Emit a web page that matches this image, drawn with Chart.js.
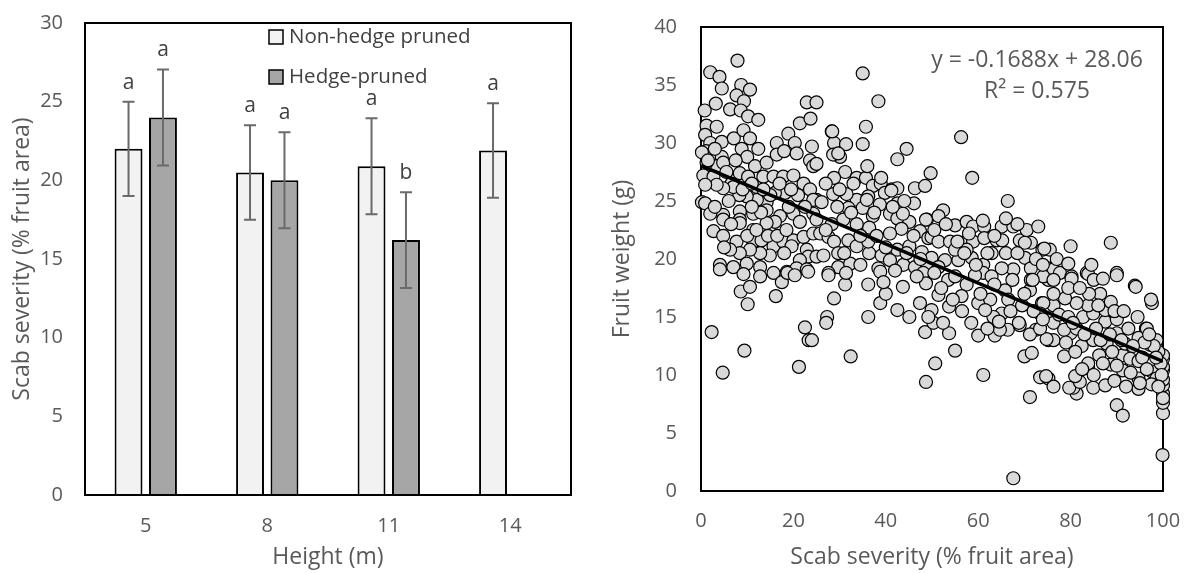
<!DOCTYPE html>
<html lang="en">
<head>
<meta charset="UTF-8">
<title>Scab severity and fruit weight</title>
<script src="https://cdn.jsdelivr.net/npm/chart.js"></script>
<style>
  html, body { margin: 0; padding: 0; background: #fff; }
  #wrap { position: relative; width: 1188px; height: 573px; }
  #barChart { position: absolute; left: 0; top: 0; }
  #scatterChart { position: absolute; left: 600px; top: 0; }
</style>
</head>
<body>
<div id="wrap">
  <canvas id="barChart" width="600" height="573"></canvas>
  <canvas id="scatterChart" width="588" height="573"></canvas>
</div>
<script>
// ---- left panel: scab severity by height ----
const heights = ['5', '8', '11', '14'];
const nonHedge = [22.0, 20.5, 20.9, 21.9];
const nonHedgeErr = [3.0, 3.0, 3.05, 3.0];
const nonHedgeLetters = ['a', 'a', 'a', 'a'];
const hedge = [24.0, 20.0, 16.2, null];
const hedgeErr = [3.05, 3.05, 3.05, null];
const hedgeLetters = ['a', 'a', 'b', null];

// ---- right panel: fruit weight vs scab severity ----
const scabSeverity = [
  7.9, 2.0, 4.0, 4.5, 8.7, 10.6, 7.7, 9.3, 3.2, 0.8, 6.3, 8.6, 10.2, 12.4, 1.2, 3.4, 0.9, 2.0, 1.1, 0.2,
  4.5, 7.1, 9.2, 10.6, 8.8, 12.4, 10.0, 11.7, 14.2, 16.4, 16.4, 18.9, 20.3, 21.4, 23.7, 22.9, 25.0, 18.0, 20.7, 24.0,
  23.6, 24.3, 4.5, 3.4, 1.2, 0.5, 2.7, 4.8, 6.6, 8.4, 10.2, 12.1, 13.5, 15.7, 17.8, 20.0, 22.2, 23.6, 25.0, 18.2,
  16.0, 14.2, 12.1, 9.9, 8.3, 7.0, 4.8, 3.4, 0.9, 0.2, 0.9, 2.0, 4.8, 8.4, 8.4, 11.3, 14.2, 17.1, 20.0, 21.4,
  24.3, 16.0, 14.2, 11.3, 8.4, 4.8, 2.7, 4.8, 7.7, 11.3, 13.1, 15.7, 17.8, 20.0, 22.2, 22.9, 23.2, 21.4, 19.6, 18.0,
  14.9, 12.8, 10.6, 8.4, 6.3, 4.1, 7.0, 9.9, 12.8, 15.7, 18.6, 20.7, 22.9, 25.0, 24.3, 25.0, 24.3,
  2.3, 4.7, 9.4, 8.6, 10.1, 10.6, 9.2, 12.8, 16.2, 17.5, 18.7, 22.5, 23.3, 21.2, 20.3, 4.1, 23.2,
  35.0, 38.4, 35.7, 35.0, 44.5, 42.5, 28.3, 28.8, 31.4, 30.1, 28.6, 25.0, 31.2, 28.8, 33.7, 35.7, 37.2, 38.9, 41.3, 42.5,
  46.3, 48.5, 49.7, 46.1, 42.5, 39.8, 36.2, 33.7, 31.5, 28.6, 26.1, 31.9, 35.0, 37.2, 40.9, 42.5, 45.1, 48.9, 47.4, 43.4,
  40.9, 36.4, 33.7, 30.8, 28.3, 25.8, 27.6, 28.8, 31.9, 33.7, 36.4, 36.2, 39.1, 42.5, 45.1, 47.8, 49.2, 29.7, 26.5, 29.7,
  32.3, 27.6, 38.4, 40.9, 43.8, 46.3, 48.9, 48.1,
  32.4, 48.7, 50.7, 36.2, 38.8, 40.0, 42.5, 45.1, 36.2, 43.7, 48.5, 47.4, 48.7, 50.3, 27.3, 27.1, 28.8, 31.2, 27.6, 31.4,
  24.0, 38.8, 46.7,
  56.3, 58.7, 66.4, 52.4, 51.4, 55.0, 57.5, 58.9, 61.3, 65.1, 67.6, 49.9, 51.4, 53.9, 56.4, 58.9, 61.3, 64.0, 65.2, 69.0,
  71.4, 73.9, 70.1, 71.4, 75.2, 67.6, 65.1, 61.1, 58.6, 55.7, 52.8, 49.9, 51.4, 55.0, 57.5, 62.9, 61.1,
  67.6, 71.2, 61.1, 55.0, 53.7, 60.0, 63.6, 66.4, 64.7, 69.0, 72.5, 71.2, 70.0, 71.6, 73.4, 75.2, 75.2, 65.1, 68.8, 63.3,
  60.0, 62.6, 57.5, 53.5, 51.4, 53.7, 49.9, 56.4, 67.4, 71.2, 73.8, 71.4, 75.2, 59.3, 62.9, 65.8, 61.5, 52.4, 49.2,
  88.7, 80.0, 75.5, 76.3, 77.7, 80.2, 83.5, 90.0, 74.1,
  99.9, 90.0, 91.3, 100, 100, 100, 100, 100, 100, 100, 100, 99.0, 100, 76.3, 81.3, 80.6, 79.7, 84.9, 87.5, 74.7,
  82.0, 81.0, 83.8, 83.8, 78.6, 86.2, 88.7, 91.3, 91.3, 92.9, 94.7, 94.7, 94.7, 97.6, 98.6, 98.6, 97.2, 96.3, 94.7, 91.8,
  90.0, 87.8, 84.9, 82.4, 80.0, 76.3, 74.8, 73.4, 76.3, 78.6, 81.3, 82.7, 84.9, 87.5, 90.0, 87.5, 88.7, 86.4, 83.8, 81.3,
  78.8, 76.3, 76.3, 74.1, 73.4, 93.9, 97.6, 90.0, 80.2, 76.3,
  96.5, 99.5, 99.7, 100, 99.0, 98.0, 96.0, 97.0,
  70.1, 74.3, 83.8, 94.1, 71.8, 97.4, 48.7, 43.7, 41.2, 38.7, 35.9, 29.7, 28.4,
  1.5, 3.0, 5.5, 6.0, 7.5, 9.0, 11.0, 13.0, 5.0, 3.0, 6.5, 10.0, 12.0, 14.5, 16.5, 18.5, 19.0, 21.0, 22.5, 19.5,
  17.0, 15.0, 13.5, 11.0,
  27.0, 30.0, 32.5, 34.5, 38.0, 40.0, 37.5, 39.0, 41.5, 44.0, 46.0, 44.5, 42.0, 39.5, 34.5, 31.0, 27.0, 29.5, 33.0, 36.0,
  50.5, 53.0, 55.5, 57.0, 59.5, 62.0, 63.5, 66.0, 68.5, 70.5, 72.5, 74.0, 60.5, 63.5, 66.5, 69.5, 72.0, 74.0, 52.0, 54.5,
  56.5, 58.5, 62.0, 64.5, 67.0, 70.0, 55.0, 50.5, 47.5, 58.0, 61.0, 68.5, 73.0, 66.0,
  77.5, 79.5, 80.5, 79.0, 81.0, 83.0, 85.5, 86.5, 88.5, 89.0, 91.0, 92.5, 93.5, 95.5, 96.5, 93.0, 90.0, 87.0, 85.0, 82.5,
  89.5, 92.0, 97.5, 95.0, 98.5, 99.0, 84.0, 86.0, 89.5, 91.5, 94.5, 79.5, 82.0, 85.0, 77.0, 79.5, 84.5, 87.0
];
const fruitWeight = [
  37.1, 36.1, 35.7, 34.7, 35.0, 34.6, 34.1, 33.6, 33.4, 32.8, 32.9, 32.8, 32.3, 32.0, 31.5, 31.4, 30.7, 30.0, 29.3, 29.2,
  30.1, 30.4, 31.1, 30.4, 29.5, 29.5, 28.8, 28.0, 28.3, 30.0, 29.0, 30.8, 30.0, 31.7, 32.1, 33.5, 33.5, 29.3, 29.1, 29.7,
  28.5, 28.0, 28.8, 28.0, 28.3, 27.2, 27.1, 28.3, 26.5, 27.4, 27.1, 26.2, 27.1, 27.1, 27.1, 27.2, 26.5, 26.0, 25.1, 25.7,
  25.7, 24.9, 25.1, 25.4, 25.5, 26.2, 26.1, 26.4, 26.4, 24.9, 24.8, 23.9, 23.8, 24.1, 23.4, 23.9, 24.2, 23.7, 23.9, 23.2,
  23.9, 23.2, 23.1, 22.5, 23.1, 23.4, 22.4, 22.0, 21.5, 21.5, 21.6, 21.1, 21.5, 21.6, 21.9, 20.8, 20.2, 19.9, 21.1, 20.5,
  20.3, 20.5, 20.8, 20.5, 20.8, 19.5, 19.3, 19.6, 19.3, 18.8, 18.9, 19.2, 19.1, 20.2, 22.2, 23.4, 25.1,
  13.7, 10.2, 12.1, 17.2, 16.1, 17.6, 18.7, 18.5, 16.8, 18.0, 18.8, 14.1, 13.0, 10.7, 18.6, 19.1, 18.9,
  36.0, 33.6, 31.4, 29.9, 29.5, 28.6, 31.0, 30.0, 29.9, 28.8, 29.0, 28.2, 27.5, 27.0, 27.0, 27.0, 26.3, 26.5, 26.0, 26.1,
  26.1, 26.3, 27.4, 24.8, 24.8, 25.7, 25.4, 25.1, 25.6, 25.6, 24.9, 24.4, 24.4, 23.7, 23.9, 23.5, 23.2, 23.4, 22.4, 22.6,
  22.2, 22.7, 23.0, 23.4, 23.0, 22.2, 21.9, 21.5, 21.6, 21.1, 20.5, 21.5, 20.3, 20.8, 21.1, 20.6, 21.8, 20.5, 20.3, 19.3,
  19.6, 18.8, 19.2, 19.9, 19.5, 19.3, 19.5, 18.8,
  11.6, 9.4, 11.0, 15.0, 16.2, 17.0, 15.6, 15.0, 17.8, 17.6, 13.7, 16.2, 17.9, 14.5, 15.0, 14.5, 16.6, 17.8, 18.6, 18.8,
  13.0, 18.9, 18.5,
  30.5, 27.0, 25.0, 24.2, 23.7, 22.9, 23.2, 22.8, 22.8, 22.8, 22.8, 21.9, 21.5, 21.5, 21.4, 21.5, 21.8, 21.6, 21.6, 21.6,
  21.4, 20.8, 20.1, 19.2, 19.2, 19.1, 19.2, 19.5, 20.1, 19.9, 19.9, 20.1, 19.3, 20.8, 20.8, 20.5, 18.8,
  1.1, 8.1, 10.0, 12.1, 13.6, 13.4, 13.4, 13.9, 13.9, 14.3, 13.9, 13.5, 11.6, 11.9, 9.8, 9.7, 13.0, 15.3, 14.5, 15.0,
  16.2, 16.5, 17.8, 18.2, 16.9, 15.9, 15.6, 16.8, 18.2, 17.3, 16.2, 18.2, 18.2, 18.6, 18.5, 17.3, 15.6, 14.5, 15.0,
  21.4, 21.1, 20.8, 19.1, 18.8, 18.5, 18.8, 18.8, 18.5,
  3.1, 7.4, 6.5, 6.7, 7.6, 8.4, 9.1, 9.6, 10.4, 10.7, 11.4, 10.4, 11.7, 9.0, 8.4, 8.9, 8.9, 8.9, 9.1, 9.9,
  9.4, 9.9, 10.6, 11.0, 11.6, 11.7, 10.9, 10.4, 11.7, 11.4, 11.2, 8.8, 9.7, 10.3, 9.7, 13.0, 12.6, 14.0, 13.2, 12.7,
  13.6, 12.7, 13.0, 12.5, 13.6, 13.0, 13.1, 14.0, 14.5, 13.9, 14.0, 15.0, 15.3, 14.6, 14.8, 15.6, 16.3, 17.0, 16.0, 16.2,
  16.6, 16.0, 17.0, 16.2, 15.3, 17.7, 16.2, 18.6, 18.3, 18.2,
  14.0, 11.0, 10.0, 8.0, 12.0, 12.5, 12.8, 13.5,
  21.4, 20.9, 18.7, 17.6, 18.2, 16.5, 23.4, 23.9, 25.9, 24.7, 25.1, 29.1, 31.0,
  28.5, 29.5, 27.5, 25.0, 28.5, 26.0, 26.5, 24.0, 21.0, 24.5, 23.0, 22.0, 22.5, 22.0, 22.0, 22.5, 24.5, 25.5, 24.5, 26.0,
  26.5, 25.5, 26.0, 24.5,
  26.5, 26.0, 24.0, 22.0, 22.0, 21.0, 24.0, 27.0, 24.5, 25.0, 22.0, 20.5, 19.0, 18.0, 19.5, 20.5, 22.5, 24.5, 26.5, 28.0,
  22.5, 23.0, 21.5, 20.5, 19.5, 20.5, 22.0, 20.5, 20.5, 22.5, 20.0, 19.5, 17.0, 17.8, 16.5, 16.0, 15.5, 14.8, 17.5, 16.5,
  15.5, 14.5, 14.0, 14.6, 15.5, 17.0, 18.5, 18.8, 20.0, 22.2, 23.3, 23.0, 22.8, 23.5,
  15.2, 15.0, 14.5, 12.8, 12.0, 13.5, 14.0, 13.0, 13.5, 12.0, 13.0, 14.0, 12.5, 11.5, 10.5, 10.2, 10.8, 11.0, 10.0, 10.5,
  9.5, 9.0, 9.2, 9.3, 11.5, 9.0, 17.0, 16.0, 15.5, 15.5, 15.0, 17.5, 17.5, 18.2, 20.0, 19.6, 19.5, 18.3
];
// fitted line as shown on the chart: y = -0.1688x + 28.06
const trendX = [0, 100];
const trendY = [28.06, 11.18];
const trendLabels = ['y = -0.1688x + 28.06', 'R\u00B2 = 0.575'];

const FONT = '"Open Sans"';
const AXIS_GREY = '#595959';
const TITLE_FONT = { size: 23 };
Chart.defaults.font.family = FONT;
Chart.defaults.font.size = 20;
Chart.defaults.color = AXIS_GREY;

// keep the plot area exactly where the layout padding puts it
function noEdgePadding(s) {
  s.paddingTop = 0; s.paddingBottom = 0; s.paddingLeft = 0; s.paddingRight = 0;
}

// frame, error bars, letters and legend for the bar panel
const barExtras = {
  id: 'barExtras',
  afterDatasetsDraw(chart) {
    const ctx = chart.ctx, a = chart.chartArea, ys = chart.scales.y;
    ctx.save();
    chart.data.datasets.forEach((ds, i) => {
      chart.getDatasetMeta(i).data.forEach((bar, j) => {
        const v = ds.data[j];
        if (v == null) return;
        const hi = ys.getPixelForValue(v + ds.err[j]);
        const lo = ys.getPixelForValue(v - ds.err[j]);
        ctx.strokeStyle = '#6a6a6a';
        ctx.lineWidth = 2;
        ctx.beginPath();
        ctx.moveTo(bar.x, hi); ctx.lineTo(bar.x, lo);
        ctx.moveTo(bar.x - 6, hi); ctx.lineTo(bar.x + 6, hi);
        ctx.moveTo(bar.x - 6, lo); ctx.lineTo(bar.x + 6, lo);
        ctx.stroke();
        ctx.fillStyle = '#404040';
        ctx.font = '21px ' + FONT;
        ctx.textAlign = 'center';
        ctx.textBaseline = 'middle';
        ctx.fillText(ds.letters[j], bar.x, hi - 19);
      });
    });
    ctx.strokeStyle = '#000';
    ctx.lineWidth = 2;
    ctx.strokeRect(a.left, a.top, a.right - a.left, a.bottom - a.top);
    // legend inside plot area
    const lx = 269, rows = [37, 77];
    chart.data.datasets.forEach((ds, i) => {
      ctx.fillStyle = ds.backgroundColor;
      ctx.fillRect(lx, rows[i] - 7, 14, 14);
      ctx.lineWidth = 1.5;
      ctx.strokeRect(lx, rows[i] - 7, 14, 14);
      ctx.fillStyle = '#404040';
      ctx.font = '20.5px ' + FONT;
      ctx.textAlign = 'left';
      ctx.textBaseline = 'middle';
      ctx.fillText(ds.label, lx + 20, rows[i]);
    });
    ctx.restore();
  }
};

new Chart(document.getElementById('barChart'), {
  type: 'bar',
  data: {
    labels: heights,
    datasets: [
      { label: 'Non-hedge pruned', data: nonHedge, err: nonHedgeErr, letters: nonHedgeLetters,
        backgroundColor: '#F2F2F2', borderColor: '#000', borderWidth: 2 },
      { label: 'Hedge-pruned', data: hedge, err: hedgeErr, letters: hedgeLetters,
        backgroundColor: '#A6A6A6', borderColor: '#000', borderWidth: 2 }
    ]
  },
  options: {
    responsive: false,
    animation: false,
    categoryPercentage: 0.567,
    barPercentage: 0.81,
    layout: { padding: { top: 23, right: 29, left: 0, bottom: 0 } },
    plugins: { legend: { display: false }, tooltip: { enabled: false } },
    scales: {
      x: {
        grid: { display: false, drawTicks: false },
        border: { display: false },
        ticks: { padding: 19 },
        title: { display: true, text: 'Height (m)', font: TITLE_FONT, padding: { top: 0, bottom: 2 } },
        afterFit: s => { s.height = 78; noEdgePadding(s); }
      },
      y: {
        min: 0, max: 30,
        grid: { display: false, drawTicks: false },
        border: { display: false },
        ticks: { stepSize: 5, padding: 22 },
        title: { display: true, text: 'Scab severity (% fruit area)', font: TITLE_FONT, padding: { top: 9, bottom: 0 } },
        afterFit: s => { s.width = 85; noEdgePadding(s); }
      }
    }
  },
  plugins: [barExtras]
});

// frame and fitted equation for the scatter panel
const scatterExtras = {
  id: 'scatterExtras',
  beforeDatasetsDraw(chart) {
    const ctx = chart.ctx, a = chart.chartArea;
    ctx.save();
    ctx.strokeStyle = '#000';
    ctx.lineWidth = 2;
    ctx.strokeRect(a.left, a.top, a.right - a.left, a.bottom - a.top);
    ctx.restore();
  },
  afterDraw(chart) {
    const ctx = chart.ctx;
    ctx.save();
    ctx.fillStyle = AXIS_GREY;
    ctx.font = '23px ' + FONT;
    ctx.textAlign = 'center';
    ctx.textBaseline = 'middle';
    ctx.fillText(trendLabels[0], 437, 60);
    ctx.fillText(trendLabels[1], 437, 91);
    ctx.restore();
  }
};

new Chart(document.getElementById('scatterChart'), {
  type: 'scatter',
  data: {
    datasets: [
      { type: 'line', data: trendX.map((x, i) => ({ x: x, y: trendY[i] })),
        borderColor: '#000', borderWidth: 3.5, pointRadius: 0, fill: false },
      { data: scabSeverity.map((x, i) => ({ x: x, y: fruitWeight[i] })),
        backgroundColor: '#D9D9D9', borderColor: '#000', borderWidth: 1.2, pointRadius: 6.5, clip: false }
    ]
  },
  options: {
    responsive: false,
    animation: false,
    layout: { padding: { top: 27, right: 25, left: 0, bottom: 0 } },
    plugins: { legend: { display: false }, tooltip: { enabled: false } },
    scales: {
      x: {
        type: 'linear', min: 0, max: 100,
        grid: { display: false, drawTicks: false },
        border: { display: false },
        ticks: { stepSize: 20, padding: 18 },
        title: { display: true, text: 'Scab severity (% fruit area)', font: TITLE_FONT, padding: { top: 0, bottom: 2 } },
        afterFit: s => { s.height = 82; noEdgePadding(s); }
      },
      y: {
        min: 0, max: 40,
        grid: { display: false, drawTicks: false },
        border: { display: false },
        ticks: { stepSize: 5, padding: 24 },
        title: { display: true, text: 'Fruit weight (g)', font: TITLE_FONT, padding: { top: 9, bottom: 0 } },
        afterFit: s => { s.width = 101; noEdgePadding(s); }
      }
    }
  },
  plugins: [scatterExtras]
});
</script>
</body>
</html>
